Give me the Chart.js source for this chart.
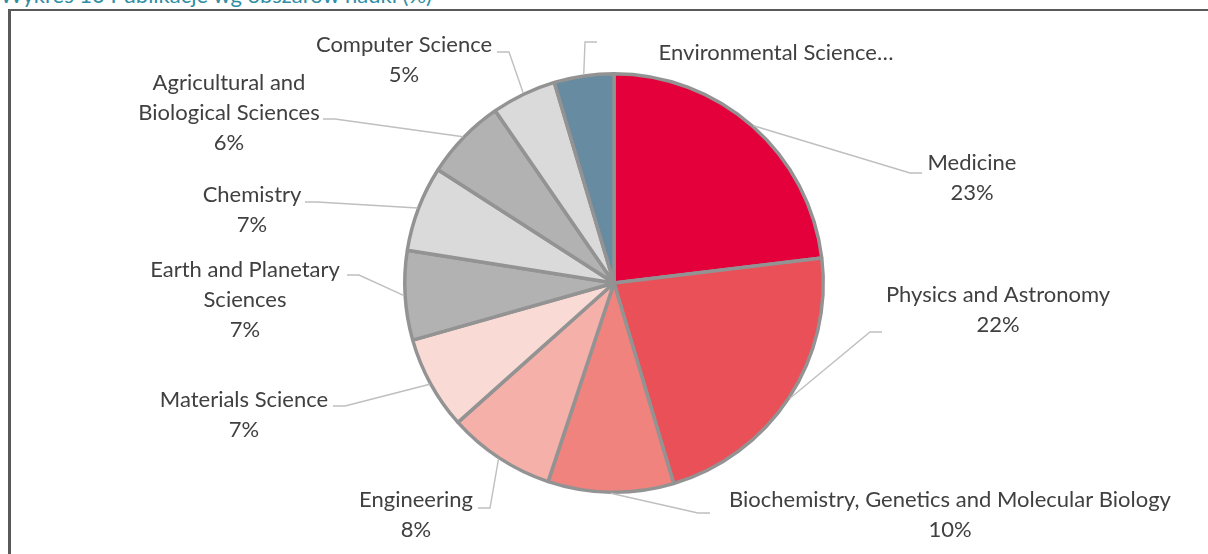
<!DOCTYPE html>
<html>
<head>
<meta charset="utf-8">
<script src="https://cdn.jsdelivr.net/npm/chart.js@4/dist/chart.umd.min.js"></script>
<style>
  html, body { margin: 0; padding: 0; background: #fff; overflow: hidden; }
  #wrap { position: relative; width: 1208px; height: 554px; overflow: hidden; }
  #title { position: absolute; left: 0; top: -19px; font: 22px Lato, sans-serif; color: #2f8ea3; white-space: nowrap; }
  #frame { position: absolute; left: 8px; top: 9px; width: 1300px; height: 700px; border-left: 3px solid #595959; border-top: 2px solid #595959; }
  #chartBox { position: absolute; left: 0; top: 0; width: 1208px; height: 554px; }
</style>
</head>
<body>
<div id="wrap">
  <div id="title">Wykres 10 Publikacje wg obszarów nauki (%)</div>
  <div id="frame"></div>
  <div id="chartBox"><canvas id="chartObszary"></canvas></div>
</div>
<script>
const categories = ['Medicine', 'Physics and Astronomy', 'Biochemistry, Genetics and Molecular Biology',
  'Engineering', 'Materials Science', 'Earth and Planetary Sciences', 'Chemistry',
  'Agricultural and Biological Sciences', 'Computer Science', 'Environmental Science'];
const shares = [23.1, 22.3, 9.7, 8.3, 7.2, 6.9, 6.6, 6.3, 5.0, 4.6];
// label text, {p} gets the percentage
const labelText = [
  ['Medicine', '{p}'],
  ['Physics and Astronomy', '{p}'],
  ['Biochemistry, Genetics and Molecular Biology', '{p}'],
  ['Engineering', '{p}'],
  ['Materials Science', '{p}'],
  ['Earth and Planetary', 'Sciences', '{p}'],
  ['Chemistry', '{p}'],
  ['Agricultural and', 'Biological Sciences', '{p}'],
  ['Computer Science', '{p}'],
  ['Environmental Science…']
];
const sliceColors = ['#e4003a', '#ea5058', '#f0837d', '#f5b1a9', '#fadad4',
  '#b2b2b2', '#dadada', '#b2b2b2', '#dadada', '#678ba0'];

// label placement relative to pie centre: text x, first line y, leader end x, leader y
const labelPos = [
  [358, -120, 308, -110],
  [384, 12, 268, 49],
  [336, 217, 96, 230],
  [-198, 217, -136, 225],
  [-370, 117, -281, 123],
  [-369, -13, -267, -8],
  [-362, -88, -309, -81],
  [-385, -200, -291, -164],
  [-210, -238, -117, -231],
  [162, -230, -17, -241]
];

const etykiety = {
  id: 'etykiety',
  afterDraw(chart) {
    const ctx = chart.ctx;
    const meta = chart.getDatasetMeta(0);
    const total = shares.reduce((a, b) => a + b, 0);
    ctx.save();
    ctx.font = '22px Lato, sans-serif';
    ctx.textAlign = 'center';
    ctx.textBaseline = 'middle';
    meta.data.forEach((arc, i) => {
      const p = arc.getProps(['x', 'y', 'startAngle', 'endAngle', 'outerRadius'], true);
      const mid = (p.startAngle + p.endAngle) / 2;
      const r = p.outerRadius + 1;
      const ax = p.x + Math.cos(mid) * r;
      const ay = p.y + Math.sin(mid) * r;
      const [tx, ty, ex, ey] = labelPos[i];
      const lx = p.x + ex, ly = p.y + ey;
      const elbowX = ax < lx ? lx - 12 : lx + 12;
      ctx.strokeStyle = '#bfbfbf';
      ctx.lineWidth = 1.4;
      ctx.beginPath();
      ctx.moveTo(ax, ay);
      ctx.lineTo(elbowX, ly);
      ctx.lineTo(lx, ly);
      ctx.stroke();
      ctx.fillStyle = '#404040';
      const pct = Math.round(shares[i] / total * 100) + '%';
      labelText[i].forEach((t, k) => {
        ctx.fillText(t.replace('{p}', pct), p.x + tx, p.y + ty + k * 30);
      });
    });
    ctx.restore();
  }
};

const ctx = document.getElementById('chartObszary');
let grafico = new Chart(ctx, {
  type: 'pie',
  data: {
    labels: categories,
    datasets: [{
      data: shares,
      backgroundColor: sliceColors,
      borderColor: '#939393',
      borderWidth: 3.5
    }]
  },
  options: {
    responsive: true,
    maintainAspectRatio: false,
    animation: false,
    layout: {
      padding: { left: 403, right: 383, top: 72, bottom: 60 }
    },
    plugins: {
      legend: { display: false },
      tooltip: { enabled: false }
    }
  },
  plugins: [etykiety]
});
</script>
</body>
</html>
